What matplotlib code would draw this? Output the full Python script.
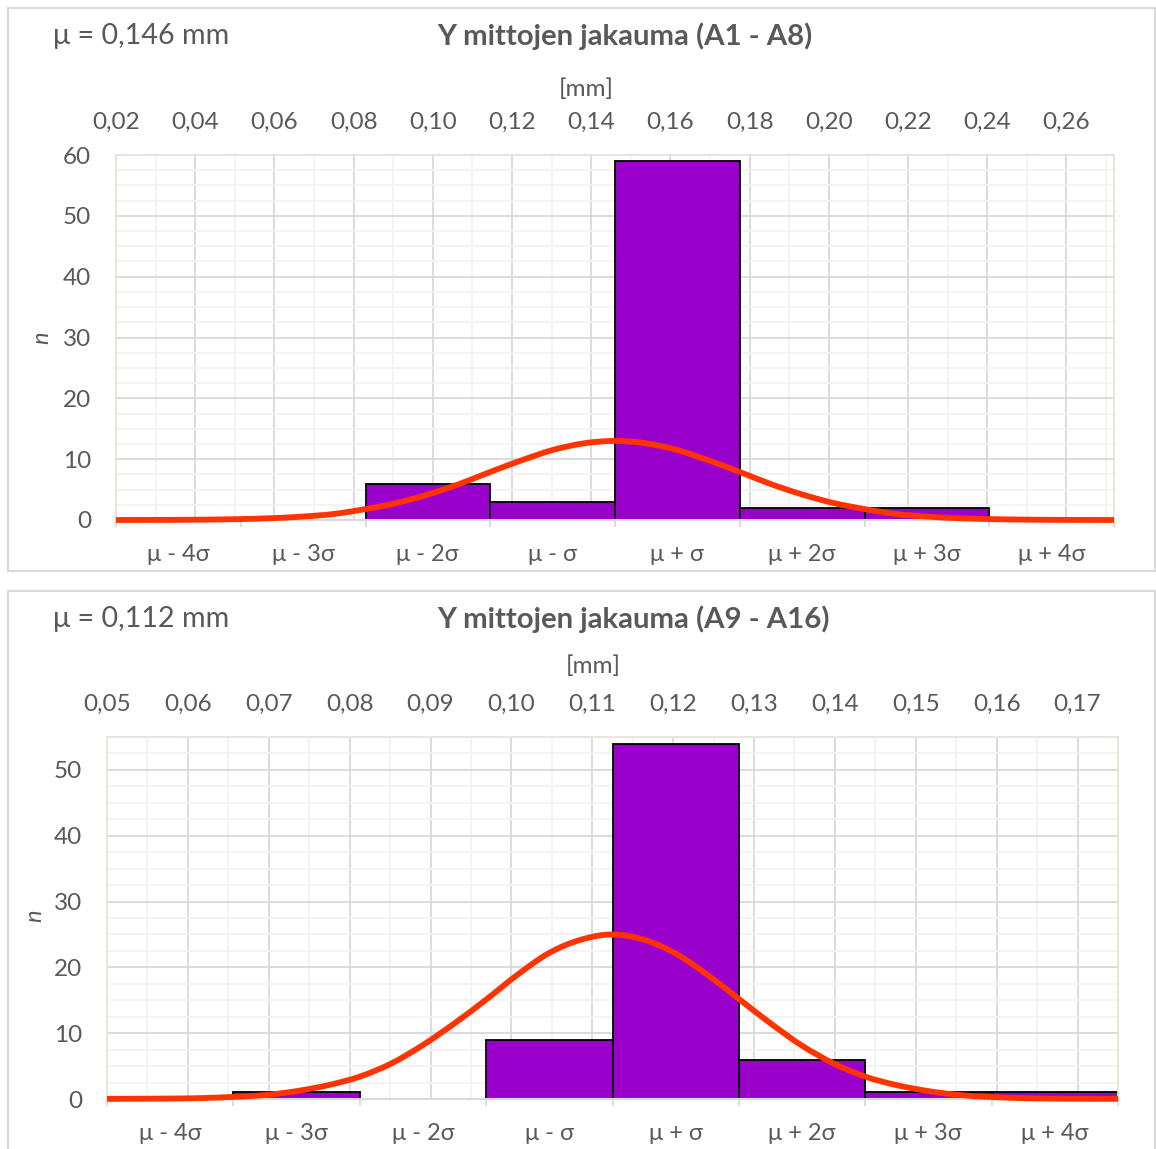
import matplotlib
matplotlib.use("Agg")
import matplotlib.pyplot as plt
from matplotlib.patches import Rectangle, PathPatch
from matplotlib.path import Path
from matplotlib.ticker import MultipleLocator, FixedLocator, NullFormatter

plt.rcParams['font.family'] = ['Lato', 'Open Sans', 'DejaVu Sans']

# --- data ---
categories = ["μ - 4σ", "μ - 3σ", "μ - 2σ", "μ - σ", "μ + σ", "μ + 2σ", "μ + 3σ", "μ + 4σ"]

counts_a = [0, 0, 6, 3, 59, 2, 2, 0]       # A1 - A8
counts_b = [0, 1, 0, 9, 54, 6, 1, 1]       # A9 - A16

# normal curve, sampled every quarter category (0 .. 8)
curve_x = [i * 0.25 for i in range(33)]
curve_a = [0.0, 0.01, 0.03, 0.07, 0.15, 0.3, 0.57, 1.0, 1.8, 2.8, 4.2, 5.9, 7.9, 9.8, 11.5, 12.6, 13.0,
           12.6, 11.5, 9.8, 7.9, 5.9, 4.2, 2.8, 1.8, 1.0, 0.57, 0.3, 0.15, 0.07, 0.03, 0.01, 0.0]
curve_b = [0.02, 0.04, 0.07, 0.14, 0.32, 0.6, 1.2, 2.1, 3.4, 5.4, 8.2, 11.5, 15.1, 18.9, 22.2, 24.2, 25.0,
           24.2, 22.1, 18.9, 15.2, 11.5, 8.1, 5.4, 3.4, 2.1, 1.2, 0.6, 0.3, 0.13, 0.06, 0.03, 0.02]

mm_ticks_a = [0.02, 0.04, 0.06, 0.08, 0.10, 0.12, 0.14, 0.16, 0.18, 0.20, 0.22, 0.24, 0.26]
mm_ticks_b = [0.05, 0.06, 0.07, 0.08, 0.09, 0.10, 0.11, 0.12, 0.13, 0.14, 0.15, 0.16, 0.17]

TXT = '#595959'
MAJ = '#D9D9D9'
MIN = '#F2F2F2'
W, H = 1156, 1149

fig = plt.figure(figsize=(W / 100, H / 100), dpi=100)


def px(x, y, w, h):
    # pixel box (top-left origin) -> figure fraction rect
    return [x / W, 1 - (y + h) / H, w / W, h / H]


def smooth_path(xs, ys):
    # smoothed line like Excel's: cubic bezier through the read points
    pts = list(zip(xs, ys))
    verts = [pts[0]]
    codes = [Path.MOVETO]
    n = len(pts)
    for i in range(n - 1):
        p0 = pts[max(i - 1, 0)]
        p1 = pts[i]
        p2 = pts[i + 1]
        p3 = pts[min(i + 2, n - 1)]
        c1 = (p1[0] + (p2[0] - p0[0]) / 6, p1[1] + (p2[1] - p0[1]) / 6)
        c2 = (p2[0] - (p3[0] - p1[0]) / 6, p2[1] - (p3[1] - p1[1]) / 6)
        verts += [c1, c2, p2]
        codes += [Path.CURVE4] * 3
    return Path(verts, codes)


def panel(box, counts, cx, cy, mm_ticks, mm_lim, mm_minor, ymax, mean_txt, title,
          title_y, mm_xy, n_xy, edge):
    # light frame around the whole chart
    fig.patches.append(Rectangle((box[0] / W, 1 - (box[1] + box[3]) / H), box[2] / W, box[3] / H,
                                 transform=fig.transFigure, fill=False, ec=MAJ, lw=1.5))
    rect = px(*edge)
    # mm scale behind everything: vertical grid + top labels
    axm = fig.add_axes(rect, zorder=0)
    axm.set_xlim(*mm_lim)
    axm.set_ylim(0, 1)
    axm.xaxis.set_major_locator(FixedLocator(mm_ticks))
    axm.xaxis.set_minor_locator(MultipleLocator(mm_minor))
    axm.xaxis.tick_top()
    axm.set_xticklabels([("%.2f" % v).replace('.', ',') for v in mm_ticks])
    axm.tick_params(axis='x', which='both', length=0, pad=16, labelsize=17.5, labelcolor=TXT)
    axm.set_yticks([])
    axm.grid(True, axis='x', which='major', color=MAJ, lw=1.3)
    axm.grid(True, axis='x', which='minor', color=MIN, lw=1.3)
    for s in axm.spines.values():
        s.set_visible(False)

    ax = fig.add_axes(rect, zorder=1)
    ax.patch.set_alpha(0)
    ax.set_axisbelow(True)
    ax.bar([i + 0.5 for i in range(len(counts))], counts, width=1.0, color='#9900CC',
           edgecolor='black', lw=1.3, zorder=2)
    ax.set_xlim(0, len(counts))
    ax.set_ylim(0, ymax)
    ax.add_patch(PathPatch(smooth_path(cx, cy), fill=False, ec='#FF3300', lw=4.2,
                           capstyle='butt', zorder=3, clip_on=False))
    ax.xaxis.set_major_locator(FixedLocator([i + 0.5 for i in range(len(counts))]))
    ax.xaxis.set_minor_locator(FixedLocator(list(range(len(counts) + 1))))
    ax.set_xticklabels(categories)
    ax.xaxis.set_minor_formatter(NullFormatter())
    ax.tick_params(axis='x', which='major', length=0, pad=17, labelsize=17, labelcolor=TXT)
    ax.tick_params(axis='x', which='minor', length=5, width=1.3, color=MAJ, direction='out')
    ax.yaxis.set_major_locator(MultipleLocator(10))
    ax.yaxis.set_minor_locator(MultipleLocator(2.5))
    ax.tick_params(axis='y', which='both', length=0, pad=18, labelsize=17.5, labelcolor=TXT)
    ax.grid(True, axis='y', which='major', color=MAJ, lw=1.3)
    ax.grid(True, axis='y', which='minor', color=MIN, lw=1.3)
    for k in ('top', 'left', 'right'):
        ax.spines[k].set_color('#E6E4DA')
        ax.spines[k].set_linewidth(1.3)
    ax.spines['bottom'].set_color(MAJ)
    ax.spines['bottom'].set_linewidth(1.5)

    fig.text(53 / W, 1 - title_y / H, mean_txt, fontsize=20.7, color=TXT, va='center', ha='left')
    fig.text(437 / W, 1 - title_y / H, title, fontsize=21.2, color=TXT, fontweight='bold',
             va='center', ha='left')
    fig.text(mm_xy[0] / W, 1 - mm_xy[1] / H, "[mm]", fontsize=17.5, color=TXT,
             va='center', ha='center')
    fig.text(n_xy[0] / W, 1 - n_xy[1] / H, "n", fontsize=17, color=TXT, style='italic',
             rotation=90, va='center', ha='center')


panel((8, 8, 1147, 563), counts_a, curve_x, curve_a, mm_ticks_a, (0.02, 0.272), 0.01, 60,
      "μ = 0,146 mm", "Y mittojen jakauma (A1 - A8)", 36, (586, 89), (42, 338),
      (116, 155, 998, 365))
panel((8, 591, 1147, 570), counts_b, curve_x, curve_b, mm_ticks_b, (0.05, 0.175), 0.005, 55,
      "μ = 0,112 mm", "Y mittojen jakauma (A9 - A16)", 619, (593, 666), (35, 916),
      (107, 737, 1011, 362))

fig.savefig("out.png", dpi=100, facecolor='white')
